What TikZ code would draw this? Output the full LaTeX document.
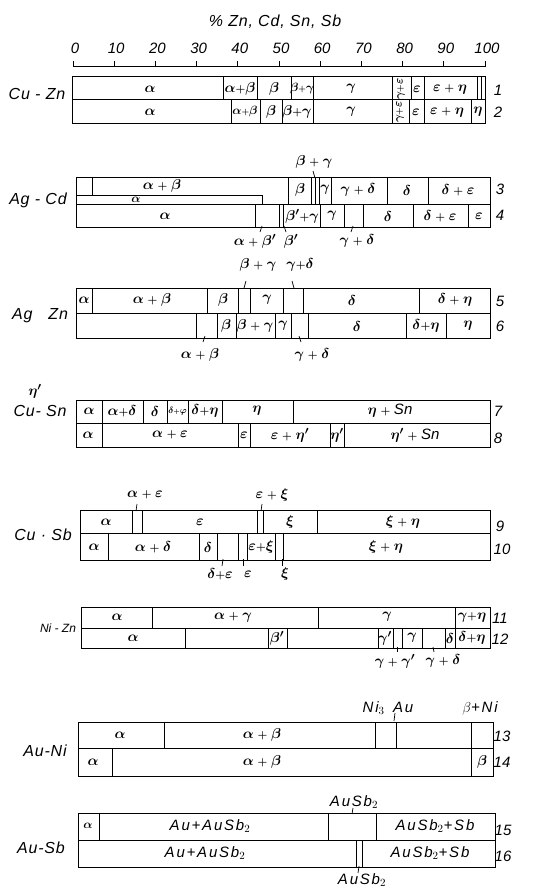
\documentclass[tikz,border=0pt]{standalone}
\usepackage{fontspec}
\setmainfont{Liberation Sans}
\usepackage{tikz}

% small plus signs as printed in the chart
\newcommand{\bplus}{\mathbin{\scriptstyle+}}
\newcommand{\tplus}{{\scriptstyle+}}

\begin{document}
\begin{tikzpicture}[
    x=1pt, y=-1pt,
    bar/.style={line width=1pt},
    leader/.style={line width=0.7pt},
    phase/.style={inner sep=0pt, font=\fontsize{15}{16}\selectfont\boldmath},
    phasesm/.style={inner sep=0pt, font=\fontsize{11.5}{12}\selectfont\boldmath},
    phasetiny/.style={inner sep=0pt, font=\fontsize{9}{10}\selectfont\boldmath},
    alloy/.style={inner sep=0pt, font=\fontsize{16}{18}\selectfont\itshape\addfontfeature{LetterSpace=5}},
    txt/.style={inner sep=0pt, font=\fontsize{15}{16}\selectfont\itshape\addfontfeature{LetterSpace=12}},
    rownum/.style={inner sep=0pt, font=\fontsize{15}{16}\selectfont\itshape},
]
\useasboundingbox (0,0) rectangle (533,888);

% ── Scale ──
\node[alloy] (title) at (275,22) {\% Zn, Cd, Sn, Sb};
\draw[bar] (73,67) -- (485,67);
\foreach \p in {0,10,...,100} {
    \draw[bar] ({73+4.12*\p},67) -- ({73+4.12*\p},61);
    \node[rownum] (scale\p) at ({75+4.12*\p},48) {\p};
}

% ── Cu - Zn (rows 1, 2) ──
\node[alloy] (cuzn) at (37,94) {Cu - Zn};
\draw[bar] (72,77) rectangle (485,124);
\draw[bar] (72,100) -- (485,100);
\foreach \x in {223,257,291,313,392,411,424,477,481}
    \draw[bar] (\x,77) -- (\x,100);
\foreach \x in {231,260,282,313,392,409,424,471}
    \draw[bar] (\x,100) -- (\x,124);
\node[phase] (r1a) at (150,89) {$\alpha$};
\node[phase] (r1ab) at (240,89) {$\alpha\tplus\beta$};
\node[phase] (r1b) at (274,89) {$\beta$};
\node[phasesm] (r1bg) at (302,89) {$\beta\tplus\gamma$};
\node[phase] (r1g) at (351,89) {$\gamma$};
\node[phasesm, rotate=90] (r1ge) at (401,89) {$\gamma\tplus\varepsilon$};
\node[phase] (r1e) at (417,89) {$\varepsilon$};
\node[phase] (r1eh) at (450,89) {$\varepsilon\bplus\eta$};
\node[rownum] (n1) at (498,90) {1};

\node[phase] (r2a) at (150,112) {$\alpha$};
\node[phasesm] (r2ab) at (245,112) {$\alpha\tplus\beta$};
\node[phase] (r2b) at (271,112) {$\beta$};
\node[phase] (r2bg) at (297,112) {$\beta\tplus\gamma$};
\node[phase] (r2g) at (351,112) {$\gamma$};
\node[phasesm, rotate=90] (r2ge) at (400,112) {$\gamma\tplus\varepsilon$};
\node[phase] (r2e) at (416,112) {$\varepsilon$};
\node[phase] (r2eh) at (447,112) {$\varepsilon\bplus\eta$};
\node[phase] (r2h) at (478,112) {$\eta$};
\node[rownum] (n2) at (498,112) {2};

% ── Ag - Cd (rows 3, 4) ──
\node[alloy] (agcd) at (38,200) {Ag - Cd};
\draw[bar] (76,177) rectangle (490,227);
\draw[bar] (76,204) -- (490,204);
\draw[bar] (92,177) -- (92,195);
\draw[bar] (76,195) -- (262,195) -- (262,204);
\foreach \x in {288,311,315,319,331,387,428}
    \draw[bar] (\x,177) -- (\x,204);
\foreach \x in {255,279,283,320,344,363,413,468}
    \draw[bar] (\x,204) -- (\x,227);
\node[phase] (r3ab) at (162,186) {$\alpha\bplus\beta$};
\node[phasesm] (r3a) at (136,200) {$\alpha$};
\node[phase] (r3b) at (300,190) {$\beta$};
\node[phase] (r3g) at (325,190) {$\gamma$};
\node[phase] (r3gd) at (358,190) {$\gamma\bplus\delta$};
\node[phase] (r3d) at (407,190) {$\delta$};
\node[phase] (r3de) at (458,190) {$\delta\bplus\varepsilon$};
\node[rownum] (n3) at (500,189) {3};

\node[phase] (r4a) at (165,216) {$\alpha$};
\node[phase] (r4bg) at (302,216) {$\beta'\tplus\gamma$};
\node[phase] (r4g) at (332,216) {$\gamma$};
\node[phase] (r4d) at (388,216) {$\delta$};
\node[phase] (r4de) at (440,216) {$\delta\bplus\varepsilon$};
\node[phase] (r4e) at (479,216) {$\varepsilon$};
\node[rownum] (n4) at (500,215) {4};

\node[phase] (r3bgx) at (314,162) {$\beta\bplus\gamma$};
\draw[leader] (313,171) -- (315,178);
\node[phase] (r4abx) at (255,241) {$\alpha\bplus\beta'$};
\node[phase] (r4bx) at (291,241) {$\beta'$};
\node[phase] (r4gdx) at (357,241) {$\gamma\bplus\delta$};
\draw[leader] (262,226) -- (260,232);
\draw[leader] (284,226) -- (286,232);
\draw[leader] (353,226) -- (351,232);

% ── Ag Zn (rows 5, 6) ──
\node[alloy] (agzn) at (40,316) {Ag\quad Zn};
\draw[bar] (76,288) rectangle (490,338);
\draw[bar] (76,313) -- (490,313);
\foreach \x in {92,207,238,250,283,303,419}
    \draw[bar] (\x,288) -- (\x,313);
\foreach \x in {196,217,236,275,291,308,406,446}
    \draw[bar] (\x,313) -- (\x,338);
\node[phase] (r5a) at (84,300) {$\alpha$};
\node[phase] (r5ab) at (152,300) {$\alpha\bplus\beta$};
\node[phase] (r5b) at (223,300) {$\beta$};
\node[phase] (r5g) at (267,300) {$\gamma$};
\node[phase] (r5d) at (352,300) {$\delta$};
\node[phase] (r5dh) at (455,300) {$\delta\bplus\eta$};
\node[rownum] (n5) at (500,301) {5};

\node[phase] (r6b) at (226,326) {$\beta$};
\node[phase] (r6bg) at (255,326) {$\beta\bplus\gamma$};
\node[phase] (r6g) at (283,326) {$\gamma$};
\node[phase] (r6d) at (357,326) {$\delta$};
\node[phase] (r6dh) at (426,326) {$\delta\tplus\eta$};
\node[phase] (r6h) at (468,326) {$\eta$};
\node[rownum] (n6) at (500,326) {6};

\node[phase] (r5bgx) at (258,265) {$\beta\bplus\gamma$};
\node[phase] (r5gdx) at (300,265) {$\gamma\tplus\delta$};
\draw[leader] (246,281) -- (244,288);
\draw[leader] (292,281) -- (294,288);
\node[phase] (r6abx) at (200,355) {$\alpha\bplus\beta$};
\node[phase] (r6gdx) at (312,355) {$\gamma\bplus\delta$};
\draw[leader] (205,336) -- (203,342);
\draw[leader] (299,336) -- (301,342);

% ── Cu - Sn (rows 7, 8) ──
\node[phase] (etamark) at (35,391) {$\eta'$};
\node[alloy] (cusn) at (40,411) {Cu- Sn};
\draw[bar] (76,400) rectangle (490,447);
\draw[bar] (76,423) -- (490,423);
\foreach \x in {102,143,167,188,222,293}
    \draw[bar] (\x,400) -- (\x,423);
\foreach \x in {102,238,250,330,344}
    \draw[bar] (\x,423) -- (\x,447);
\node[phase] (r7a) at (89,411) {$\alpha$};
\node[phase] (r7ad) at (122,411) {$\alpha\tplus\delta$};
\node[phase] (r7d) at (155,411) {$\delta$};
\node[phasetiny] (r7df) at (177.5,411) {$\delta\tplus\varphi$};
\node[phase] (r7dh) at (205,411) {$\delta\tplus\eta$};
\node[phase] (r7h) at (257,411) {$\eta$};
\node[phase] (r7hs) at (390,411) {$\eta\bplus{}$\textit{Sn}};
\node[rownum] (n7) at (498,411) {7};

\node[phase] (r8a) at (88,435) {$\alpha$};
\node[phase] (r8ae) at (170,435) {$\alpha\bplus\varepsilon$};
\node[phase] (r8e) at (244,435) {$\varepsilon$};
\node[phase] (r8eh) at (290,435) {$\varepsilon\bplus\eta'$};
\node[phase] (r8h) at (337,435) {$\eta'$};
\node[phase] (r8hs) at (415,435) {$\eta'\bplus{}$\textit{Sn}};
\node[rownum] (n8) at (498,438) {8};

% ── Cu · Sb (rows 9, 10) ──
\node[alloy] (cusb) at (43,535) {Cu · Sb};
\draw[bar] (80,510) rectangle (490,560);
\draw[bar] (80,533) -- (490,533);
\foreach \x in {132,142,257,263,317}
    \draw[bar] (\x,510) -- (\x,533);
\foreach \x in {108,199,217,238,247,275,283}
    \draw[bar] (\x,533) -- (\x,560);
\node[phase] (r9a) at (106,522) {$\alpha$};
\node[phase] (r9e) at (200,522) {$\varepsilon$};
\node[phase] (r9x) at (290,522) {$\xi$};
\node[phase] (r9xh) at (403,522) {$\xi\bplus\eta$};
\node[rownum] (n9) at (500,526) {9};

\node[phase] (r10a) at (94,547) {$\alpha$};
\node[phase] (r10ad) at (153,547) {$\alpha\bplus\delta$};
\node[phase] (r10d) at (208,547) {$\delta$};
\node[phase] (r10ex) at (261,547) {$\varepsilon\tplus\xi$};
\node[phase] (r10xh) at (386,547) {$\xi\bplus\eta$};
\node[rownum] (n10) at (502,549) {10};

\node[phase] (r9aex) at (145,495) {$\alpha\bplus\varepsilon$};
\node[phase] (r9exx) at (272,495) {$\varepsilon\bplus\xi$};
\draw[leader] (137,504) -- (136,511);
\draw[leader] (262,504) -- (261,511);
\node[phase] (r10dex) at (220,574) {$\delta\tplus\varepsilon$};
\node[phase] (r10ex2) at (248,574) {$\varepsilon$};
\node[phase] (r10xx) at (285,574) {$\xi$};
\draw[leader] (223,559) -- (222,566);
\draw[leader] (243,559) -- (243,566);
\draw[leader] (282,559) -- (282,566);

% ── Ni - Zn (rows 11, 12) ──
\node[alloy, font=\fontsize{12}{14}\selectfont\itshape] (nizn) at (58,628) {Ni - Zn};
\draw[bar] (81,607) rectangle (490,648);
\draw[bar] (81,628) -- (490,628);
\foreach \x in {152,318,455}
    \draw[bar] (\x,607) -- (\x,628);
\foreach \x in {185,268,287,378,393,402,422,445,455}
    \draw[bar] (\x,628) -- (\x,648);
\node[phase] (r11a) at (117,617) {$\alpha$};
\node[phase] (r11ag) at (233,617) {$\alpha\bplus\gamma$};
\node[phase] (r11g) at (387,617) {$\gamma$};
\node[phase] (r11gh) at (472,617) {$\gamma\tplus\eta$};
\node[rownum] (n11) at (500,618) {11};

\node[phase] (r12a) at (133,638) {$\alpha$};
\node[phase] (r12b) at (277,638) {$\beta'$};
\node[phase] (r12gp) at (385,638) {$\gamma'$};
\node[phase] (r12g) at (412,638) {$\gamma$};
\node[phase] (r12d) at (450,638) {$\delta$};
\node[phase] (r12dh) at (472,638) {$\delta\tplus\eta$};
\node[rownum] (n12) at (500,639) {12};

\node[phase] (r12ggx) at (395,661) {$\gamma\bplus\gamma'$};
\node[phase] (r12gdx) at (443,661) {$\gamma\bplus\delta$};
\draw[leader] (397,647) -- (397,652);
\draw[leader] (433,647) -- (434,652);

% ── Au-Ni (rows 13, 14) ──
\node[alloy] (auni) at (45,751) {Au-Ni};
\draw[bar] (78,722) rectangle (493,776);
\draw[bar] (78,748) -- (493,748);
\foreach \x in {164,375,396,471}
    \draw[bar] (\x,722) -- (\x,748);
\foreach \x in {112,471}
    \draw[bar] (\x,748) -- (\x,776);
\node[phase] (r13a) at (120,735) {$\alpha$};
\node[phase] (r13ab) at (262,735) {$\alpha\bplus\beta$};
\node[rownum] (n13) at (502,736) {13};

\node[phase] (r14a) at (93,762) {$\alpha$};
\node[phase] (r14ab) at (262,762) {$\alpha\bplus\beta$};
\node[phase] (r14b) at (482,762) {$\beta$};
\node[rownum] (n14) at (502,762) {14};

\node[txt] (ni3au) at (388,708) {Ni$_3$\, Au};
\node[txt] (bni) at (480,708) {$\beta$+Ni};
\draw[leader] (395,713) -- (394,721);

% ── Au-Sb (rows 15, 16) ──
\node[alloy] (ausb) at (41,848) {Au-Sb};
\draw[bar] (78,813) rectangle (495,867);
\draw[bar] (78,840) -- (495,840);
\foreach \x in {99,328,376}
    \draw[bar] (\x,813) -- (\x,840);
\foreach \x in {356,362}
    \draw[bar] (\x,840) -- (\x,867);
\node[phasesm] (r15a) at (88,826) {$\alpha$};
\node[txt] (r15aa) at (210,826) {Au+AuSb$_2$};
\node[txt] (r15as) at (435,826) {AuSb$_2$+Sb};
\node[rownum] (n15) at (503,830) {15};

\node[txt] (r16aa) at (205,853) {Au+AuSb$_2$};
\node[txt] (r16as) at (430,853) {AuSb$_2$+Sb};
\node[rownum] (n16) at (503,856) {16};

\node[txt] (r15x) at (354,802) {AuSb$_2$};
\draw[leader] (353,808) -- (352,814);
\node[txt] (r16x) at (362,880) {AuSb$_2$};
\draw[leader] (359,866) -- (358,873);

\end{tikzpicture}
\end{document}
